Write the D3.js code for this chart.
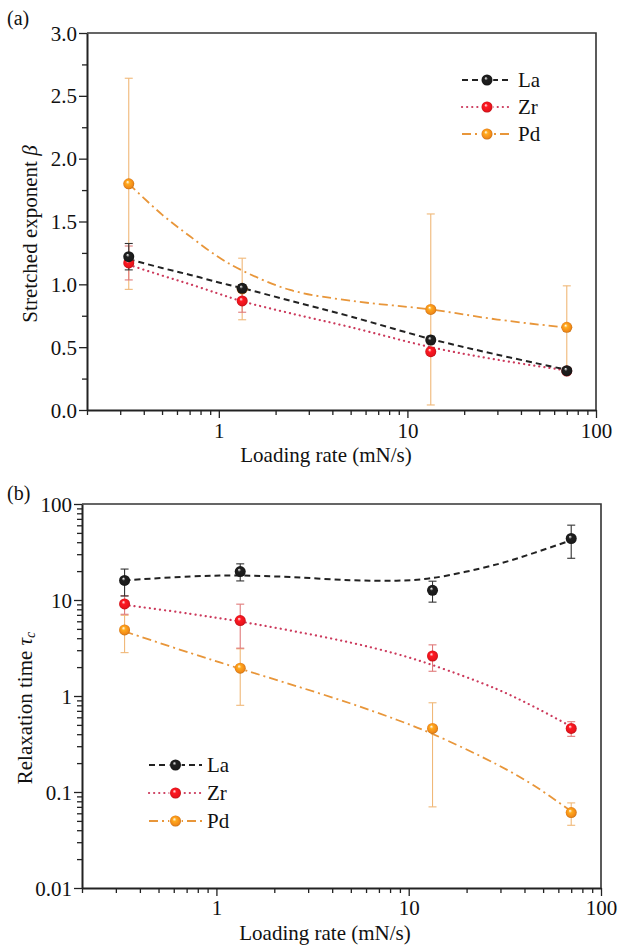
<!DOCTYPE html>
<html><head><meta charset="utf-8">
<script src="https://cdn.jsdelivr.net/npm/d3@7"></script>
<style>
html,body{margin:0;padding:0;background:#fff;}
svg{display:block;}
svg text{font-family:"Liberation Serif","Times New Roman",serif !important;}
</style></head>
<body>
<svg id="chart" width="618" height="947"></svg>
<script>
// ---------- data ----------
const seriesNames = ["La", "Zr", "Pd"];
const loadingRate = [0.333, 1.33, 13.3, 70];

// panel (a): stretched exponent beta
const betaLa = [1.22, 0.968, 0.557, 0.313];
const betaLaErr = [0.105, 0.03, 0.03, 0.02];
const betaZr = [1.17, 0.868, 0.464, 0.31];
const betaZrErr = [0.135, 0.09, 0.03, 0.02];
const betaPd = [1.80, 0.963, 0.80, 0.658];
const betaPdErr = [0.84, 0.245, 0.76, 0.33];

// panel (a) fitted curves
const fitXa = [0.333, 0.5, 0.706, 1.0, 1.33, 2.39, 4.97, 13.3, 30, 70];
const fitBetaLa = [1.20, 1.13, 1.075, 1.015, 0.97, 0.87, 0.745, 0.565, 0.44, 0.32];
const fitBetaZr = [1.155, 1.07, 1.0, 0.925, 0.865, 0.77, 0.66, 0.50, 0.40, 0.315];
const fitBetaPd = [1.80, 1.555, 1.38, 1.215, 1.11, 0.955, 0.87, 0.80, 0.72, 0.655];

// panel (b): relaxation time tau_c
const tauLa = [16.0, 19.8, 12.6, 43.7];
const tauLaErr = [5.0, 4.0, 3.1, 16.5];
const tauZr = [9.1, 6.1, 2.61, 0.46];
const tauZrErr = [2.0, 2.95, 0.8, 0.08];
const tauPd = [4.88, 1.95, 0.46, 0.061];
const tauPdErr = [2.05, 1.15, 0.39, 0.016];

// panel (b) fitted curves
const fitXb = [0.333, 0.73, 1.32, 2.5, 4.95, 8.66, 13.2, 28.7, 45, 70];
const fitTauLa = [16.0, 17.6, 18.0, 17.3, 16.1, 15.9, 16.9, 23.5, 31, 42];
const fitTauZr = [8.9, 7.19, 5.98, 4.75, 3.61, 2.74, 2.11, 1.18, 0.77, 0.48];
const fitTauPd = [4.7, 2.81, 1.93, 1.30, 0.84, 0.566, 0.405, 0.194, 0.116, 0.063];

// tick labels
const xTickVals = [1, 10, 100];
const xMinorVals = [0.2,0.3,0.4,0.5,0.6,0.7,0.8,0.9,2,3,4,5,6,7,8,9,20,30,40,50,60,70,80,90];
const betaTicks = [0, 0.5, 1.0, 1.5, 2.0, 2.5, 3.0];
const betaMinor = [0.25, 0.75, 1.25, 1.75, 2.25, 2.75];
const tauTicks = [0.01, 0.1, 1, 10, 100];
const tauTickLabels = ["0.01", "0.1", "1", "10", "100"];

// ---------- styles ----------
const styles = {
  La: {fill: "#1a1a1a", line: "#222222", err: "#333333", dash: "6,4", width: 2, cap: "butt"},
  Zr: {fill: "#e8141c", line: "#cc3a5c", err: "#e07a7a", dash: "0.1,5", width: 2.2, cap: "round"},
  Pd: {fill: "#f28a18", line: "#e8963a", err: "#f0b878", dash: "9,4,2,4", width: 1.8, cap: "butt"}
};
const FS = "21px";

const svg = d3.select("#chart");
const defs = svg.append("defs");
seriesNames.forEach(n => {
  const g = defs.append("radialGradient").attr("id", "ball" + n)
    .attr("cx", "50%").attr("cy", "50%").attr("r", "55%").attr("fx", "38%").attr("fy", "32%");
  g.append("stop").attr("offset", "0%").attr("stop-color", "#ffffff");
  g.append("stop").attr("offset", "30%").attr("stop-color", d3.color(styles[n].fill).brighter(0.6));
  g.append("stop").attr("offset", "75%").attr("stop-color", styles[n].fill);
  g.append("stop").attr("offset", "100%").attr("stop-color", d3.color(styles[n].fill).darker(0.8));
});

function drawPanel(cfg) {
  const {left, right, top, bottom, y, series, fits, fitX, yTicks, yTickFmt, yMinor, yTitle, xLabelY, xTitleX, xTitleY, yTitleX, yTitleY, panelLabel, panelLabelPos, legend} = cfg;
  const x = d3.scaleLog().domain([0.2, 100]).range([left, right]);
  y.range([bottom, top]);
  const g = svg.append("g");

  // error bars
  series.forEach(s => {
    const st = styles[s.name];
    const eg = g.append("g").attr("stroke", st.err).attr("stroke-width", 1.1).attr("fill", "none");
    loadingRate.forEach((xv, i) => {
      const v = s.values[i], e = s.err[i];
      const lo = Math.max(v - e, y.domain()[0]);
      const cx = x(xv);
      eg.append("line").attr("x1", cx).attr("x2", cx).attr("y1", y(lo)).attr("y2", y(v + e));
      eg.append("line").attr("x1", cx - 4).attr("x2", cx + 4).attr("y1", y(v + e)).attr("y2", y(v + e));
      if (v - e > y.domain()[0]) eg.append("line").attr("x1", cx - 4).attr("x2", cx + 4).attr("y1", y(v - e)).attr("y2", y(v - e));
    });
  });

  // fit lines
  fits.forEach(f => {
    const st = styles[f.name];
    const line = d3.line().x(d => x(d[0])).y(d => y(d[1])).curve(d3.curveCatmullRom.alpha(0.5));
    g.append("path").datum(fitX.map((xv, i) => [xv, f.values[i]]))
      .attr("d", line).attr("fill", "none").attr("stroke", st.line)
      .attr("stroke-width", st.width).attr("stroke-dasharray", st.dash).attr("stroke-linecap", st.cap);
  });

  // markers
  series.forEach(s => {
    g.append("g").selectAll("circle").data(loadingRate.map((xv, i) => [xv, s.values[i]])).join("circle")
      .attr("cx", d => x(d[0])).attr("cy", d => y(d[1])).attr("r", 5.5)
      .attr("fill", "url(#ball" + s.name + ")");
  });

  // axes
  const xAxis = d3.axisBottom(x).tickValues(xTickVals).tickFormat(d3.format("d")).tickSize(8).tickSizeOuter(0);
  const xg = g.append("g").attr("transform", `translate(0,${bottom})`).call(xAxis);
  const xMin = d3.axisBottom(x).tickValues(xMinorVals).tickFormat("").tickSize(5).tickSizeOuter(0);
  g.append("g").attr("transform", `translate(0,${bottom})`).call(xMin).select(".domain").remove();
  xg.selectAll("text").attr("dy", null)
    .attr("y", xLabelY - bottom).attr("dominant-baseline", "central")
    .style("font-size", FS).attr("fill", "#111");

  const yAxis = d3.axisLeft(y).tickValues(yTicks).tickFormat(yTickFmt).tickSize(8).tickSizeOuter(0);
  const yg = g.append("g").attr("transform", `translate(${left},0)`).call(yAxis);
  yg.selectAll("text").attr("x", -10).attr("dy", null).attr("dominant-baseline", "central")
    .style("font-size", FS).attr("fill", "#111");
  const yMin = d3.axisLeft(y).tickValues(yMinor).tickFormat("").tickSize(5).tickSizeOuter(0);
  g.append("g").attr("transform", `translate(${left},0)`).call(yMin).select(".domain").remove();
  g.selectAll(".tick line").attr("stroke", "#222").attr("stroke-width", 1.3);
  g.selectAll(".domain").attr("stroke", "#222").attr("stroke-width", 2);

  // frame top/right
  g.append("path").attr("d", `M${left},${top}H${right}V${bottom}`)
    .attr("fill", "none").attr("stroke", "#333").attr("stroke-width", 1.6);

  // titles
  g.append("text").attr("x", xTitleX).attr("y", xTitleY).attr("text-anchor", "middle")
    .attr("dominant-baseline", "central").style("font-size", FS).attr("fill", "#111")
    .text("Loading rate (mN/s)");
  const yt = g.append("text").attr("transform", `translate(${yTitleX},${yTitleY}) rotate(-90)`)
    .attr("text-anchor", "middle").attr("dominant-baseline", "central").style("font-size", FS).attr("fill", "#111");
  yTitle(yt);

  g.append("text").attr("x", panelLabelPos[0]).attr("y", panelLabelPos[1]).attr("dominant-baseline", "central")
    .style("font-size", "20px").attr("fill", "#111").text(panelLabel);

  // legend
  const lg = g.append("g");
  seriesNames.forEach((n, i) => {
    const st = styles[n];
    const ly = legend.y0 + i * legend.dy;
    lg.append("line").attr("x1", legend.x0).attr("x2", legend.x1).attr("y1", ly).attr("y2", ly)
      .attr("stroke", st.line).attr("stroke-width", st.width).attr("stroke-dasharray", st.dash)
      .attr("stroke-linecap", st.cap);
    lg.append("circle").attr("cx", (legend.x0 + legend.x1) / 2).attr("cy", ly).attr("r", 5.5)
      .attr("fill", "url(#ball" + n + ")").attr("stroke", "#fff").attr("stroke-width", 1.5).attr("paint-order", "stroke");
    lg.append("text").attr("x", legend.tx).attr("y", ly).attr("dominant-baseline", "central")
      .style("font-size", FS).attr("fill", "#111").text(n);
  });
}

// panel (a)
drawPanel({
  left: 87, right: 596, top: 33, bottom: 410,
  y: d3.scaleLinear().domain([0, 3]),
  series: [
    {name: "Pd", values: betaPd, err: betaPdErr},
    {name: "Zr", values: betaZr, err: betaZrErr},
    {name: "La", values: betaLa, err: betaLaErr}
  ],
  fits: [
    {name: "Pd", values: fitBetaPd},
    {name: "Zr", values: fitBetaZr},
    {name: "La", values: fitBetaLa}
  ],
  fitX: fitXa,
  yTicks: betaTicks, yTickFmt: d3.format(".1f"), yMinor: betaMinor,
  yTitle: t => { t.append("tspan").text("Stretched exponent "); t.append("tspan").style("font-style", "italic").text("β"); },
  xLabelY: 431, xTitleX: 326, xTitleY: 455, yTitleX: 30, yTitleY: 234,
  panelLabel: "(a)", panelLabelPos: [7, 18],
  legend: {x0: 462, x1: 512, tx: 518, y0: 80, dy: 27}
});

// panel (b)
drawPanel({
  left: 82, right: 601, top: 504, bottom: 888,
  y: d3.scaleLog().domain([0.01, 100]),
  series: [
    {name: "Pd", values: tauPd, err: tauPdErr},
    {name: "Zr", values: tauZr, err: tauZrErr},
    {name: "La", values: tauLa, err: tauLaErr}
  ],
  fits: [
    {name: "Pd", values: fitTauPd},
    {name: "Zr", values: fitTauZr},
    {name: "La", values: fitTauLa}
  ],
  fitX: fitXb,
  yTicks: tauTicks, yTickFmt: (d, i) => tauTickLabels[i],
  yMinor: [2,3,4,5,6,7,8,9].flatMap(m => [0.01, 0.1, 1, 10].map(p => m * p)),
  yTitle: t => { t.append("tspan").text("Relaxation time "); t.append("tspan").style("font-style", "italic").text("τ");
    t.append("tspan").style("font-style", "italic").style("font-size", "14px").attr("dy", 5).text("c"); },
  xLabelY: 908, xTitleX: 325, xTitleY: 933, yTitleX: 25, yTitleY: 708,
  panelLabel: "(b)", panelLabelPos: [7, 493],
  legend: {x0: 149, x1: 202, tx: 207, y0: 765, dy: 28}
});
</script>
</body></html>
